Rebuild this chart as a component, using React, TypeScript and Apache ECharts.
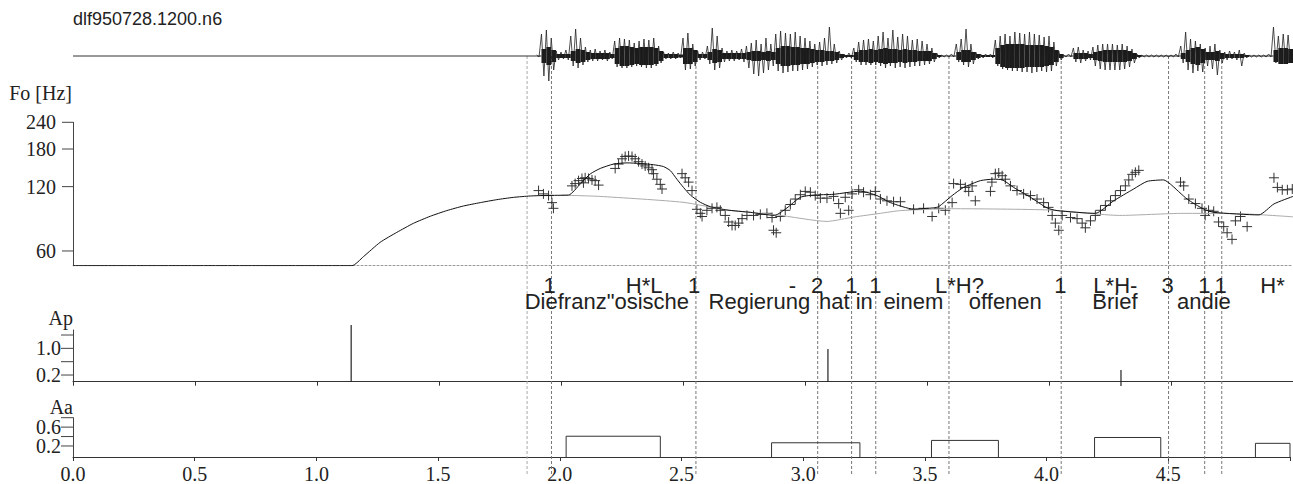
import React, { useEffect, useRef } from 'react';
import * as echarts from 'echarts';

// ---------- data ----------
const TITLE = 'dlf950728.1200.n6';

// speech waveform: envelope samples, one per 0.02 s starting at 1.90 s
const WAVE_T0 = 1.9;
const WAVE_DT = 0.02;
const WAVE_FLAT = [[0, 0], [1.9, 0]];
const WAVE_HI = [
  1, 22, 26, 18, 5, 4, 6, 20, 27, 18,
  9, 6, 7, 5, 6, 4, 15, 18, 17, 16,
  13, 15, 17, 16, 18, 10, 4, 3, 4, 3,
  18, 23, 12, 5, 4, 10, 28, 20, 8, 5,
  6, 5, 7, 10, 13, 16, 12, 18, 12, 22,
  25, 23, 22, 24, 20, 18, 15, 12, 14, 18,
  29, 12, 5, 2, 3, 8, 14, 16, 17, 15,
  20, 24, 18, 26, 19, 22, 20, 16, 17, 15,
  12, 8, 3, 1, 1, 2, 12, 17, 27, 12,
  4, 2, 2, 2, 16, 20, 22, 20, 24, 23,
  22, 24, 22, 21, 19, 20, 14, 5, 1, 2,
  8, 9, 6, 5, 9, 11, 12, 12, 12, 11,
  12, 10, 7, 2, 1, 1, 1, 1, 1, 1,
  1, 2, 10, 24, 17, 15, 12, 8, 10, 12,
  6, 4, 5, 4, 6, 3, 1, 1, 1, 1,
  2, 29, 20, 22, 21,
];
const WAVE_LO = [
  -1, -20, -25, -14, -4, -3, -4, -10, -12, -9,
  -6, -5, -5, -4, -5, -3, -11, -12, -12, -11,
  -10, -11, -12, -12, -10, -7, -3, -3, -3, -2,
  -14, -13, -10, -4, -3, -8, -14, -12, -6, -5,
  -5, -4, -6, -12, -18, -20, -17, -14, -10, -15,
  -17, -16, -15, -15, -14, -13, -11, -9, -10, -9,
  -8, -7, -4, -2, -2, -6, -9, -9, -9, -9,
  -10, -12, -10, -12, -11, -12, -11, -10, -10, -9,
  -8, -6, -2, -1, -1, -1, -6, -9, -11, -8,
  -3, -2, -1, -2, -10, -13, -14, -15, -15, -16,
  -16, -17, -16, -15, -16, -15, -10, -4, -1, -1,
  -6, -7, -5, -4, -10, -13, -14, -14, -14, -14,
  -13, -11, -7, -2, -1, -1, -1, -1, -1, -1,
  -1, -1, -7, -14, -17, -15, -16, -10, -13, -19,
  -7, -4, -3, -4, -10, -2, -1, -1, -1, -1,
  -1, -7, -8, -8, -7,
];
const WAVE_CORE = [
  0.5, 7, 9, 6, 2, 2, 2, 5, 7, 6,
  4, 3, 3, 3, 3, 2, 8, 10, 10, 9,
  8, 9, 9, 9, 8, 5, 2, 2, 2, 1.5,
  8, 8, 6, 2, 2, 4, 7, 6, 3, 3,
  3, 3, 3, 4, 5, 5, 4, 5, 4, 8,
  10, 10, 9, 9, 8, 8, 7, 6, 6, 5,
  5, 4, 2, 1, 1, 4, 6, 6, 7, 6,
  7, 8, 7, 7, 6, 7, 6, 6, 5, 5,
  5, 3, 1, 0.5, 0.5, 0.5, 4, 6, 6, 4,
  2, 1, 1, 1, 8, 11, 12, 12, 12, 12,
  11, 11, 11, 11, 10, 9, 6, 2, 0.5, 0.5,
  3, 3, 3, 2, 4, 5, 6, 6, 6, 6,
  6, 5, 3, 1, 0.5, 0.5, 0.5, 0.5, 0.5, 0.5,
  0.5, 0.5, 3, 6, 8, 9, 7, 4, 4, 5,
  3, 2, 2, 2, 2, 1, 0.5, 0.5, 0.5, 0.5,
  0.5, 6, 8, 8, 7,
];

// measured F0 (s, Hz)
const F0_POINTS = [
  [1.908, 115], [1.928, 111], [1.949, 109], [1.963, 101], [1.969, 95],
  [2.045, 121], [2.058, 124], [2.072, 128], [2.086, 131], [2.092, 125], [2.099, 132], [2.113, 131], [2.127, 129], [2.14, 128], [2.154, 122],
  [2.222, 146], [2.236, 153], [2.25, 162], [2.263, 166], [2.277, 167], [2.291, 166], [2.304, 162], [2.318, 157], [2.332, 153], [2.345, 150],
  [2.359, 147], [2.373, 144], [2.379, 138], [2.393, 130], [2.407, 123], [2.414, 117],
  [2.496, 138], [2.509, 132], [2.523, 126], [2.537, 115], [2.557, 94], [2.571, 90], [2.578, 87], [2.598, 93], [2.619, 95], [2.639, 96],
  [2.653, 93], [2.673, 88], [2.687, 82], [2.701, 79], [2.714, 79], [2.728, 81], [2.742, 85], [2.762, 88], [2.789, 88], [2.817, 89],
  [2.844, 90], [2.865, 86], [2.871, 75], [2.882, 73], [2.899, 87], [2.919, 93], [2.94, 99], [2.96, 105], [2.981, 110], [3.001, 114],
  [3.022, 113], [3.042, 109], [3.063, 106], [3.09, 106], [3.117, 108], [3.138, 100], [3.145, 90], [3.165, 107], [3.179, 93], [3.193, 111],
  [3.22, 116], [3.24, 113], [3.268, 110], [3.288, 114], [3.309, 105], [3.336, 103], [3.363, 102], [3.391, 102],
  [3.445, 94], [3.486, 95], [3.521, 87], [3.548, 95], [3.575, 93], [3.603, 101], [3.609, 124], [3.637, 123], [3.657, 119], [3.671, 114],
  [3.685, 121], [3.698, 103], [3.76, 114], [3.766, 126], [3.78, 138], [3.794, 139], [3.808, 135], [3.821, 130], [3.842, 121], [3.869, 115],
  [3.896, 111], [3.924, 109], [3.951, 105], [3.978, 101], [3.998, 96], [4.013, 88], [4.026, 81], [4.04, 75], [4.054, 88], [4.088, 86],
  [4.115, 85], [4.136, 81], [4.149, 77], [4.17, 83], [4.19, 88], [4.211, 93], [4.231, 98], [4.252, 103], [4.272, 109], [4.293, 115],
  [4.313, 121], [4.327, 129], [4.341, 137], [4.354, 140], [4.368, 143],
  [4.539, 126], [4.552, 121], [4.573, 105], [4.6, 100], [4.627, 95], [4.64, 88], [4.654, 93], [4.675, 92], [4.695, 82], [4.716, 78],
  [4.73, 73], [4.75, 68], [4.764, 83], [4.785, 87], [4.812, 78],
  [4.922, 132], [4.936, 119], [4.956, 116], [4.977, 116], [4.997, 117],
];

// model F0 contour (phrase + accent), Hz
const F0_MODEL = [
  [0, 51.2], [1.143, 51.2], [1.19, 56.4], [1.259, 65.9], [1.327, 73.3], [1.395, 80.8], [1.464, 87.2], [1.532, 92.7],
  [1.6, 97.4], [1.669, 101], [1.737, 104.3], [1.805, 106.9], [1.874, 108.5], [1.942, 109.2], [2.031, 109.6],
  [2.079, 123.5], [2.12, 137.6], [2.161, 146], [2.215, 153], [2.27, 155], [2.325, 154], [2.379, 152], [2.42, 149],
  [2.448, 142.6], [2.475, 130], [2.502, 119], [2.53, 109.6], [2.571, 101.4], [2.612, 96.7], [2.68, 93.3], [2.776, 91],
  [2.875, 88], [2.926, 95.4], [2.981, 107], [3.035, 109.6], [3.117, 110.5], [3.227, 114.3], [3.295, 109], [3.35, 101],
  [3.445, 94.2], [3.527, 95.5], [3.548, 96.7], [3.603, 109], [3.65, 119], [3.719, 128], [3.773, 130], [3.81, 129],
  [3.855, 119], [3.924, 107], [3.992, 95.4], [4.033, 92.7], [4.19, 90], [4.265, 103], [4.347, 117], [4.402, 127],
  [4.47, 129], [4.497, 123.5], [4.566, 105], [4.634, 94.2], [4.675, 91], [4.86, 88.5], [4.922, 99.6], [5.0, 108],
];

// phrase component only, Hz
const F0_PHRASE = [
  [2.0, 109.5], [2.16, 108], [2.5, 101.4], [2.68, 93.3], [2.885, 88.5], [3.09, 82.5], [3.2, 86.5], [3.309, 90],
  [3.391, 92.7], [3.6, 94.6], [4.0, 93.3], [4.29, 88], [4.55, 90], [4.8, 89.5], [5.0, 86.7],
];

const F0_TICKS = [60, 120, 180, 240];
const F0_TICK_LABELS = ['60', '120', '180', '240'];

// phrase commands Ap: time, start, end
const AP_T = [1.14, 3.094, 4.295];
const AP_LO = [0, 0, -0.13];
const AP_HI = [1.7, 0.98, 0.35];
const AP_TICKS = [0.2, 0.6, 1.0, 1.4];
const AP_TICK_LABELS = ['0.2', '', '1.0', ''];

// accent commands Aa: onset, offset, amplitude
const AA_T0 = [2.026, 2.87, 3.527, 4.197, 4.858];
const AA_T1 = [2.413, 3.233, 3.802, 4.469, 5.0];
const AA_AMP = [0.407, 0.268, 0.318, 0.38, 0.256];
const AA_TICKS = [0.2, 0.4, 0.6, 0.8];
const AA_TICK_LABELS = ['0.2', '', '0.6', ''];

// segment boundaries (s)
const BOUNDARY_LIGHT = [1.861];
const BOUNDARY_T = [1.961, 2.553, 3.052, 3.191, 3.29, 3.59, 4.05, 4.49, 4.638, 4.708];

// tone labels
const TONE_T = [1.953, 2.341, 2.546, 2.948, 3.05, 3.19, 3.288, 3.633, 4.047, 4.272, 4.486, 4.637, 4.703, 4.916];
const TONE_TEXT = ['1', 'H*L', '1', '-', '2', '1', '1', 'L*H?', '1', 'L*H-', '3', '1', '1', 'H*'];

// words
const WORD_T = [2.188, 2.813, 3.12, 3.243, 3.444, 3.821, 4.27, 4.635];
const WORD_TEXT = ['Diefranz"osische', 'Regierung', 'hat', 'in', 'einem', 'offenen', 'Brief', 'andie'];

// ---------- styles ----------
const SERIF = '"Liberation Serif", "Times New Roman", serif';
const SANS = '"Liberation Sans", Arial, sans-serif';
const INK = '#222';
const AXIS = '#444';
const TONE_Y = 285;
const WORD_Y = 301;

function yTickSeries(gridIdx: number, ticks: number[], labels: string[], tickLen: number, labelGap: number) {
  return {
    type: 'custom', xAxisIndex: gridIdx, yAxisIndex: gridIdx, silent: true,
    data: ticks.map((v) => [0, v]),
    renderItem: (p: any, api: any) => {
      const c = api.coord([0, api.value(1)]);
      const children: any[] = [
        { type: 'line', shape: { x1: c[0] - tickLen, y1: c[1], x2: c[0], y2: c[1] }, style: { stroke: AXIS, lineWidth: 1 } },
      ];
      const txt = labels[p.dataIndex];
      if (txt) {
        children.push({
          type: 'text', x: c[0] - labelGap, y: c[1],
          style: { text: txt, font: `20px ${SERIF}`, fill: INK, align: 'right', verticalAlign: 'middle' },
        });
      }
      return { type: 'group', children };
    },
  };
}

function buildOption(): any {
  const xBase = (i: number, extra: any = {}) => ({
    type: 'value', gridIndex: i, min: 0, max: 5,
    splitLine: { show: false },
    axisLabel: { show: false },
    axisTick: { show: false },
    axisLine: { show: false, onZero: false },
    ...extra,
  });

  const xAxis = [
    xBase(0),
    xBase(1, { axisLine: { show: true, onZero: false, lineStyle: { color: '#999', type: [2, 2], width: 1 } } }),
    xBase(2, {
      interval: 0.5,
      axisLine: { show: true, onZero: false, lineStyle: { color: '#333', width: 1 } },
      axisTick: { show: true, inside: false, length: 4, lineStyle: { color: '#333' } },
    }),
    xBase(3, {
      interval: 0.5,
      axisLine: { show: true, onZero: false, lineStyle: { color: '#333', width: 1 } },
      axisTick: { show: true, inside: false, length: 4, lineStyle: { color: '#333' } },
      axisLabel: {
        show: true, margin: 7, fontFamily: SERIF, fontSize: 20, color: INK,
        formatter: (v: number) => (v >= 4.99 ? '' : v.toFixed(1)),
      },
    }),
    xBase(4),
  ];

  const yAxis = [
    { type: 'value', gridIndex: 0, min: -30, max: 30, show: false },
    {
      type: 'log', logBase: 2, gridIndex: 1, min: 51.2, max: 240,
      axisLine: { show: true, lineStyle: { color: AXIS } },
      axisTick: { show: false }, axisLabel: { show: false }, splitLine: { show: false },
    },
    {
      type: 'value', gridIndex: 2, min: 0, max: 1.55,
      axisLine: { show: true, lineStyle: { color: AXIS } },
      axisTick: { show: false }, axisLabel: { show: false }, splitLine: { show: false },
    },
    {
      type: 'value', gridIndex: 3, min: -0.034, max: 0.8,
      axisLine: { show: true, lineStyle: { color: AXIS } },
      axisTick: { show: false }, axisLabel: { show: false }, splitLine: { show: false },
    },
    { type: 'value', gridIndex: 4, min: 0, max: 1, show: false },
  ];

  const grid = [
    { left: 73, right: 0, top: 26, height: 60 },
    { left: 73, right: 0, top: 122.3, height: 143.4 },
    { left: 73, right: 0, top: 330, height: 51.7 },
    { left: 73, right: 0, top: 417.7, height: 39.6 },
    { left: 73, right: 0, top: 56, height: 418 },
  ];

  const zigzag: number[][] = [];
  WAVE_HI.forEach((h, i) => {
    const t = WAVE_T0 + i * WAVE_DT;
    zigzag.push([t, h]);
    zigzag.push([t + WAVE_DT / 2, WAVE_LO[i]]);
  });

  const series: any[] = [
    // waveform
    {
      type: 'line', xAxisIndex: 0, yAxisIndex: 0, data: WAVE_FLAT, symbol: 'none', silent: true,
      lineStyle: { color: '#333', width: 1 },
    },
    {
      type: 'custom', xAxisIndex: 0, yAxisIndex: 0, silent: true,
      data: WAVE_CORE.map((c, i) => [WAVE_T0 + i * WAVE_DT, c]),
      renderItem: (_p: any, api: any) => {
        const t = api.value(0);
        const c = api.value(1);
        const a = api.coord([t, c]);
        const b = api.coord([t + WAVE_DT, -c]);
        return { type: 'rect', shape: { x: a[0], y: a[1], width: b[0] - a[0], height: b[1] - a[1] }, style: { fill: '#1a1a1a' } };
      },
    },
    {
      type: 'line', xAxisIndex: 0, yAxisIndex: 0, data: zigzag, symbol: 'none', silent: true,
      lineStyle: { color: '#222', width: 0.8 },
    },
    // boundaries
    {
      type: 'custom', xAxisIndex: 4, yAxisIndex: 4, silent: true, z: 1,
      data: BOUNDARY_LIGHT.map((t) => [t, 0]),
      renderItem: (_p: any, api: any) => {
        const a = api.coord([api.value(0), 1]);
        const b = api.coord([api.value(0), 0]);
        return { type: 'line', shape: { x1: a[0], y1: a[1], x2: b[0], y2: b[1] }, style: { stroke: '#aaa', lineWidth: 1, lineDash: [3, 2] } };
      },
    },
    {
      type: 'custom', xAxisIndex: 4, yAxisIndex: 4, silent: true, z: 1,
      data: BOUNDARY_T.map((t) => [t, 0]),
      renderItem: (_p: any, api: any) => {
        const a = api.coord([api.value(0), 1]);
        const b = api.coord([api.value(0), 0]);
        return { type: 'line', shape: { x1: a[0], y1: a[1], x2: b[0], y2: b[1] }, style: { stroke: '#777', lineWidth: 1, lineDash: [3, 2] } };
      },
    },
    // F0 phrase component
    {
      type: 'line', xAxisIndex: 1, yAxisIndex: 1, data: F0_PHRASE, symbol: 'none', silent: true, smooth: 0.2,
      lineStyle: { color: '#aaa', width: 1 },
    },
    // F0 model
    {
      type: 'line', xAxisIndex: 1, yAxisIndex: 1, data: F0_MODEL, symbol: 'none', silent: true, smooth: 0.2,
      lineStyle: { color: '#111', width: 1 },
    },
    // F0 measured (+)
    {
      type: 'custom', xAxisIndex: 1, yAxisIndex: 1, silent: true,
      data: F0_POINTS,
      renderItem: (_p: any, api: any) => {
        const p = api.coord([api.value(0), api.value(1)]);
        const s = 5;
        return {
          type: 'group',
          children: [
            { type: 'line', shape: { x1: p[0] - s, y1: p[1], x2: p[0] + s, y2: p[1] }, style: { stroke: '#333', lineWidth: 1 } },
            { type: 'line', shape: { x1: p[0], y1: p[1] - s, x2: p[0], y2: p[1] + s }, style: { stroke: '#333', lineWidth: 1 } },
          ],
        };
      },
    },
    // y ticks
    yTickSeries(1, F0_TICKS, F0_TICK_LABELS, 11, 17),
    yTickSeries(2, AP_TICKS, AP_TICK_LABELS, 12, 12),
    yTickSeries(3, AA_TICKS, AA_TICK_LABELS, 12, 12),
    // Ap impulses
    {
      type: 'custom', xAxisIndex: 2, yAxisIndex: 2, silent: true,
      data: AP_T.map((t, i) => [t, AP_LO[i], AP_HI[i]]),
      renderItem: (_p: any, api: any) => {
        const a = api.coord([api.value(0), api.value(1)]);
        const b = api.coord([api.value(0), api.value(2)]);
        return { type: 'line', shape: { x1: a[0], y1: a[1], x2: b[0], y2: b[1] }, style: { stroke: '#222', lineWidth: 1.2 } };
      },
    },
    // Aa boxes
    {
      type: 'custom', xAxisIndex: 3, yAxisIndex: 3, silent: true,
      data: AA_T0.map((t, i) => [t, AA_AMP[i], AA_T1[i]]),
      renderItem: (_p: any, api: any) => {
        const t0 = api.value(0), amp = api.value(1), t1 = api.value(2);
        const base = -0.034;
        const pts = [api.coord([t0, base]), api.coord([t0, amp]), api.coord([t1, amp]), api.coord([t1, base])];
        return { type: 'polyline', shape: { points: pts }, style: { stroke: '#333', lineWidth: 1, fill: 'none' } };
      },
    },
    // tone labels
    {
      type: 'custom', xAxisIndex: 4, yAxisIndex: 4, silent: true, z: 5,
      data: TONE_T.map((t) => [t, 0]),
      renderItem: (p: any, api: any) => {
        const c = api.coord([api.value(0), 0]);
        return {
          type: 'text', x: c[0], y: TONE_Y,
          style: { text: TONE_TEXT[p.dataIndex], font: `22px ${SANS}`, fill: INK, align: 'center', verticalAlign: 'middle' },
        };
      },
    },
    // words
    {
      type: 'custom', xAxisIndex: 4, yAxisIndex: 4, silent: true, z: 5,
      data: WORD_T.map((t) => [t, 0]),
      renderItem: (p: any, api: any) => {
        const c = api.coord([api.value(0), 0]);
        return {
          type: 'text', x: c[0], y: WORD_Y,
          style: { text: WORD_TEXT[p.dataIndex], font: `22px ${SANS}`, fill: INK, align: 'center', verticalAlign: 'middle' },
        };
      },
    },
  ];

  const graphic = [
    { type: 'text', x: 73, y: 19, style: { text: TITLE, font: `18px ${SANS}`, fill: INK, align: 'left', verticalAlign: 'middle' } },
    { type: 'text', x: 72, y: 93, style: { text: 'Fo [Hz]', font: `20px ${SERIF}`, fill: INK, align: 'right', verticalAlign: 'middle' } },
    { type: 'text', x: 73, y: 318, style: { text: 'Ap', font: `20px ${SERIF}`, fill: INK, align: 'right', verticalAlign: 'middle' } },
    { type: 'text', x: 73, y: 407, style: { text: 'Aa', font: `20px ${SERIF}`, fill: INK, align: 'right', verticalAlign: 'middle' } },
  ];

  return {
    animation: false,
    backgroundColor: '#fff',
    grid, xAxis, yAxis, series, graphic,
  };
}

export default function App() {
  const ref = useRef<HTMLDivElement>(null);
  useEffect(() => {
    if (!ref.current) return;
    const chart = echarts.init(ref.current, null, { renderer: 'svg' });
    chart.setOption(buildOption());
    return () => chart.dispose();
  }, []);
  return <div ref={ref} style={{ position: 'absolute', left: 0, top: 0, width: 1293, height: 484 }} />;
}
